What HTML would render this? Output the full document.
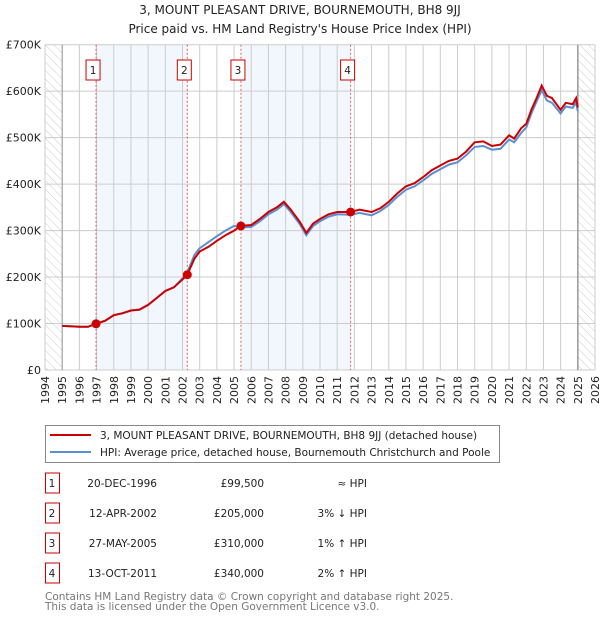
<!DOCTYPE html>
<html><head><meta charset="utf-8"><style>
body{margin:0;background:#fff;width:600px;height:620px;overflow:hidden;font-family:"DejaVu Sans","Liberation Sans",sans-serif}
svg{display:block}
</style></head><body>
<svg id="c" width="600" height="620" xmlns="http://www.w3.org/2000/svg" font-family="DejaVu Sans, Liberation Sans, sans-serif">
<defs><pattern id="h" width="6" height="6" patternUnits="userSpaceOnUse" patternTransform="rotate(-45)"><line x1="0" y1="0" x2="0" y2="6" stroke="#ccc" stroke-width="1"/></pattern></defs>
<text x="300" y="14" text-anchor="middle" font-size="12" fill="#222">3, MOUNT PLEASANT DRIVE, BOURNEMOUTH, BH8 9JJ</text>
<text x="300" y="33" text-anchor="middle" font-size="12" fill="#222">Price paid vs. HM Land Registry's House Price Index (HPI)</text>
<g id="plot"></g>
<g>
<rect x="45.5" y="425.5" width="454" height="37" fill="#fff" stroke="#888"/>
<line x1="50" y1="435" x2="91" y2="435" stroke="#cc0000" stroke-width="2"/>
<text x="100" y="439" font-size="10.5" fill="#222">3, MOUNT PLEASANT DRIVE, BOURNEMOUTH, BH8 9JJ (detached house)</text>
<line x1="50" y1="452" x2="91" y2="452" stroke="#5b8fd4" stroke-width="2"/>
<text x="100" y="456" font-size="10.5" fill="#222">HPI: Average price, detached house, Bournemouth Christchurch and Poole</text>
</g>
<g id="tbl" font-size="10.5" fill="#222"></g>
<text x="45" y="600" font-size="10.5" fill="#777">Contains HM Land Registry data © Crown copyright and database right 2025.</text>
<text x="45" y="610" font-size="10.5" fill="#777">This data is licensed under the Open Government Licence v3.0.</text>
</svg>
<script>
const years=[1995,1996,1996.5,1996.97,1997.5,1998,1998.5,1999,1999.5,2000,2000.5,2001,2001.5,2002,2002.28,2002.7,2003,2003.5,2004,2004.5,2005,2005.4,2006,2006.5,2007,2007.5,2007.9,2008.3,2008.8,2009.2,2009.6,2010,2010.5,2011,2011.78,2012.3,2013,2013.5,2014,2014.5,2015,2015.5,2016,2016.5,2017,2017.5,2018,2018.5,2019,2019.5,2020,2020.5,2021,2021.3,2021.7,2022,2022.3,2022.6,2022.9,2023.2,2023.5,2024,2024.3,2024.7,2024.9,2025];
const priceVals=[95,93,93,99.5,106,118,122,128,130,140,155,170,178,195,205,240,255,265,278,290,300,310,312,325,340,350,362,345,320,295,315,325,335,340,340,345,340,348,362,380,395,402,415,430,440,450,455,470,490,492,482,485,505,498,520,530,560,585,612,590,585,560,575,572,585,565];
const hpiVals=[95,93,93,99.5,106,118,122,128,130,140,155,170,178,197,210,248,262,275,288,300,310,307,308,320,335,345,357,340,315,290,310,320,330,335,334,338,333,342,355,373,388,395,408,422,432,442,447,462,480,482,474,476,496,490,510,522,552,578,602,580,575,552,567,564,576,557];
const saleYears=[1996.97,2002.28,2005.4,2011.78];
const saleVals=[99.5,205,310,340];
const saleLabels=["1","2","3","4"];
const saleDates=["20-DEC-1996","12-APR-2002","27-MAY-2005","13-OCT-2011"];
const salePrices=["£99,500","£205,000","£310,000","£340,000"];
const saleHpi=["≈ HPI","3% ↓ HPI","1% ↑ HPI","2% ↑ HPI"];
const yTicks=[0,100,200,300,400,500,600,700];
const yTickLabels=["£0","£100K","£200K","£300K","£400K","£500K","£600K","£700K"];
const NS="http://www.w3.org/2000/svg";
const L=45,R=595,T=44.7,B=370;
const X=y=>L+(y-1994)/32*(R-L);
const Y=v=>B-v/700*(B-T);
const g=document.getElementById('plot');
function mk(t,a,p){const e=document.createElementNS(NS,t);for(const k in a)e.setAttribute(k,a[k]);(p||g).appendChild(e);return e;}
for(let i=0;i<saleYears.length;i+=2){
 const e=mk('rect',{x:X(saleYears[i]),y:T,width:X(saleYears[i+1])-X(saleYears[i]),height:B-T,fill:'#eef3fc',opacity:0.75});
 
 
}
let hh=mk('rect',{x:L,y:T,width:X(1995)-L,height:B-T,fill:'url(#h)'});


hh=mk('rect',{x:X(2025),y:T,width:R-X(2025),height:B-T,fill:'url(#h)'});


for(let y=1994;y<=2026;y++){
 mk('line',{x1:X(y),y1:T,x2:X(y),y2:B,stroke:'#ccc','stroke-width':1});
 const t=mk('text',{x:0,y:0,'font-size':11,fill:'#222','text-anchor':'end',transform:`translate(${X(y)+4},${B+6}) rotate(-90)`});
 t.textContent=y;
 
 
}
yTicks.forEach((v,i)=>{
 mk('line',{x1:L,y1:Y(v),x2:R,y2:Y(v),stroke:'#ccc','stroke-width':1});
 const t=mk('text',{x:L-4,y:Y(v)+4,'font-size':11,fill:'#222','text-anchor':'end'});
 t.textContent=yTickLabels[i];
 
 
});
mk('line',{x1:X(1995),y1:T,x2:X(1995),y2:B,stroke:'#999','stroke-width':1});
mk('line',{x1:X(2025),y1:T,x2:X(2025),y2:B,stroke:'#999','stroke-width':1.5});
saleYears.forEach((s,i)=>{
 mk('line',{x1:X(s),y1:T,x2:X(s),y2:B,stroke:'#e06060','stroke-width':1,'stroke-dasharray':'2,2'});
 const b=mk('rect',{x:X(s)-10,y:60,width:14,height:20,fill:'#fff',stroke:'#cc0000','stroke-width':1});
 
 
 const t=mk('text',{x:X(s)-3,y:74,'font-size':10.5,fill:'#222','text-anchor':'middle'});
 t.textContent=saleLabels[i];
 
 
});
const pts=a=>a.map((v,i)=>X(years[i]).toFixed(1)+','+Y(v).toFixed(1)).join(' ');
const hl=mk('polyline',{points:pts(hpiVals),fill:'none',stroke:'#5b8fd4','stroke-width':2});


const pl=mk('polyline',{points:pts(priceVals),fill:'none',stroke:'#cc0000','stroke-width':2});


saleYears.forEach((s,i)=>{
 const c=mk('circle',{cx:X(s),cy:Y(saleVals[i]),r:4.5,fill:'#cc0000'});
 
 
});
const tb=document.getElementById('tbl');
saleLabels.forEach((l,i)=>{
 const cy=483+i*30;
 const r=mk('rect',{x:45.5,y:cy-10,width:14,height:20,fill:'#fff',stroke:'#cc0000'},tb);
 
 
 const cells=[[52,'middle',l],[157,'end',saleDates[i]],[264,'end',salePrices[i]],[367,'end',saleHpi[i]]];
 cells.forEach(c=>{
  const t=mk('text',{x:c[0],y:cy+4,'text-anchor':c[1]},tb);
  t.textContent=c[2];
  
  
 });
});
</script>
</body></html>
